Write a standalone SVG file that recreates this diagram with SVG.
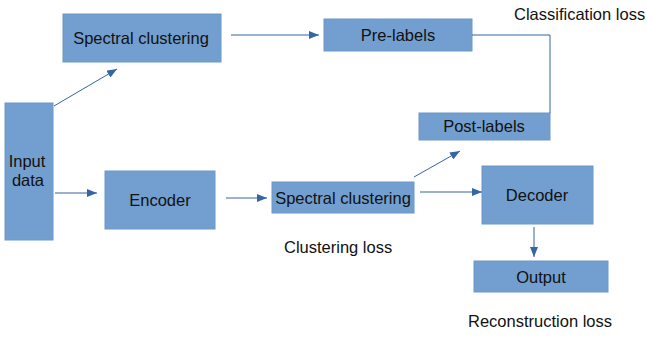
<svg xmlns="http://www.w3.org/2000/svg" width="647" height="338" viewBox="0 0 647 338">
  <defs>
    <marker id="arrow" viewBox="0 0 10 8" refX="10" refY="4" markerWidth="10" markerHeight="8" markerUnits="userSpaceOnUse" orient="auto">
      <path d="M0,0 L10,4 L0,8 Z" fill="#3465a4"/>
    </marker>
  </defs>
  <style>
    .box { fill: #729fcf; stroke: #6b98c8; stroke-width: 1; }
    .lbl { font-family: "Liberation Sans", Arial, sans-serif; font-size: 16.5px; fill: #111; text-anchor: middle; }
    .note { font-family: "Liberation Sans", Arial, sans-serif; font-size: 16.5px; fill: #111; }
    .edge { stroke: #3465a4; stroke-width: 1; fill: none; }
    .arr { marker-end: url(#arrow); }
  </style>
  <rect width="647" height="338" fill="#ffffff"/>

  <g id="input-data">
    <rect class="box" x="5" y="103" width="48" height="137"/>
    <text class="lbl" x="27" y="167">Input</text>
    <text class="lbl" x="28" y="186">data</text>
  </g>
  <g id="spectral-top">
    <rect class="box" x="63" y="14" width="158" height="48"/>
    <text class="lbl" x="141" y="44">Spectral clustering</text>
  </g>
  <g id="pre-labels">
    <rect class="box" x="324" y="19" width="148" height="32"/>
    <text class="lbl" x="398" y="41">Pre-labels</text>
  </g>
  <g id="post-labels">
    <rect class="box" x="419" y="113" width="131" height="27"/>
    <text class="lbl" x="484" y="132">Post-labels</text>
  </g>
  <g id="encoder">
    <rect class="box" x="105" y="171" width="110" height="58"/>
    <text class="lbl" x="160" y="206">Encoder</text>
  </g>
  <g id="spectral-bottom">
    <rect class="box" x="272" y="182" width="142" height="31"/>
    <text class="lbl" x="343" y="204">Spectral clustering</text>
  </g>
  <g id="decoder">
    <rect class="box" x="482" y="166" width="111" height="58"/>
    <text class="lbl" x="537" y="201">Decoder</text>
  </g>
  <g id="output">
    <rect class="box" x="474" y="261" width="134" height="31"/>
    <text class="lbl" x="541" y="283">Output</text>
  </g>

  <g id="loss-labels">
    <text class="note" x="514" y="20">Classification loss</text>
    <text class="note" x="284" y="253">Clustering loss</text>
    <text class="note" x="468" y="327">Reconstruction loss</text>
  </g>

  <g id="connectors">
    <line class="edge arr" x1="54" y1="106" x2="117" y2="69"/>
    <line class="edge arr" x1="231" y1="35" x2="319" y2="35"/>
    <polyline class="edge" points="472,35 550,35 550,113"/>
    <line class="edge arr" x1="55" y1="193" x2="97" y2="193"/>
    <line class="edge arr" x1="226" y1="198" x2="267" y2="198"/>
    <line class="edge arr" x1="414" y1="177" x2="460" y2="151"/>
    <line class="edge arr" x1="420" y1="192" x2="482" y2="192"/>
    <line class="edge arr" x1="534" y1="227" x2="534" y2="257"/>
  </g>
</svg>
